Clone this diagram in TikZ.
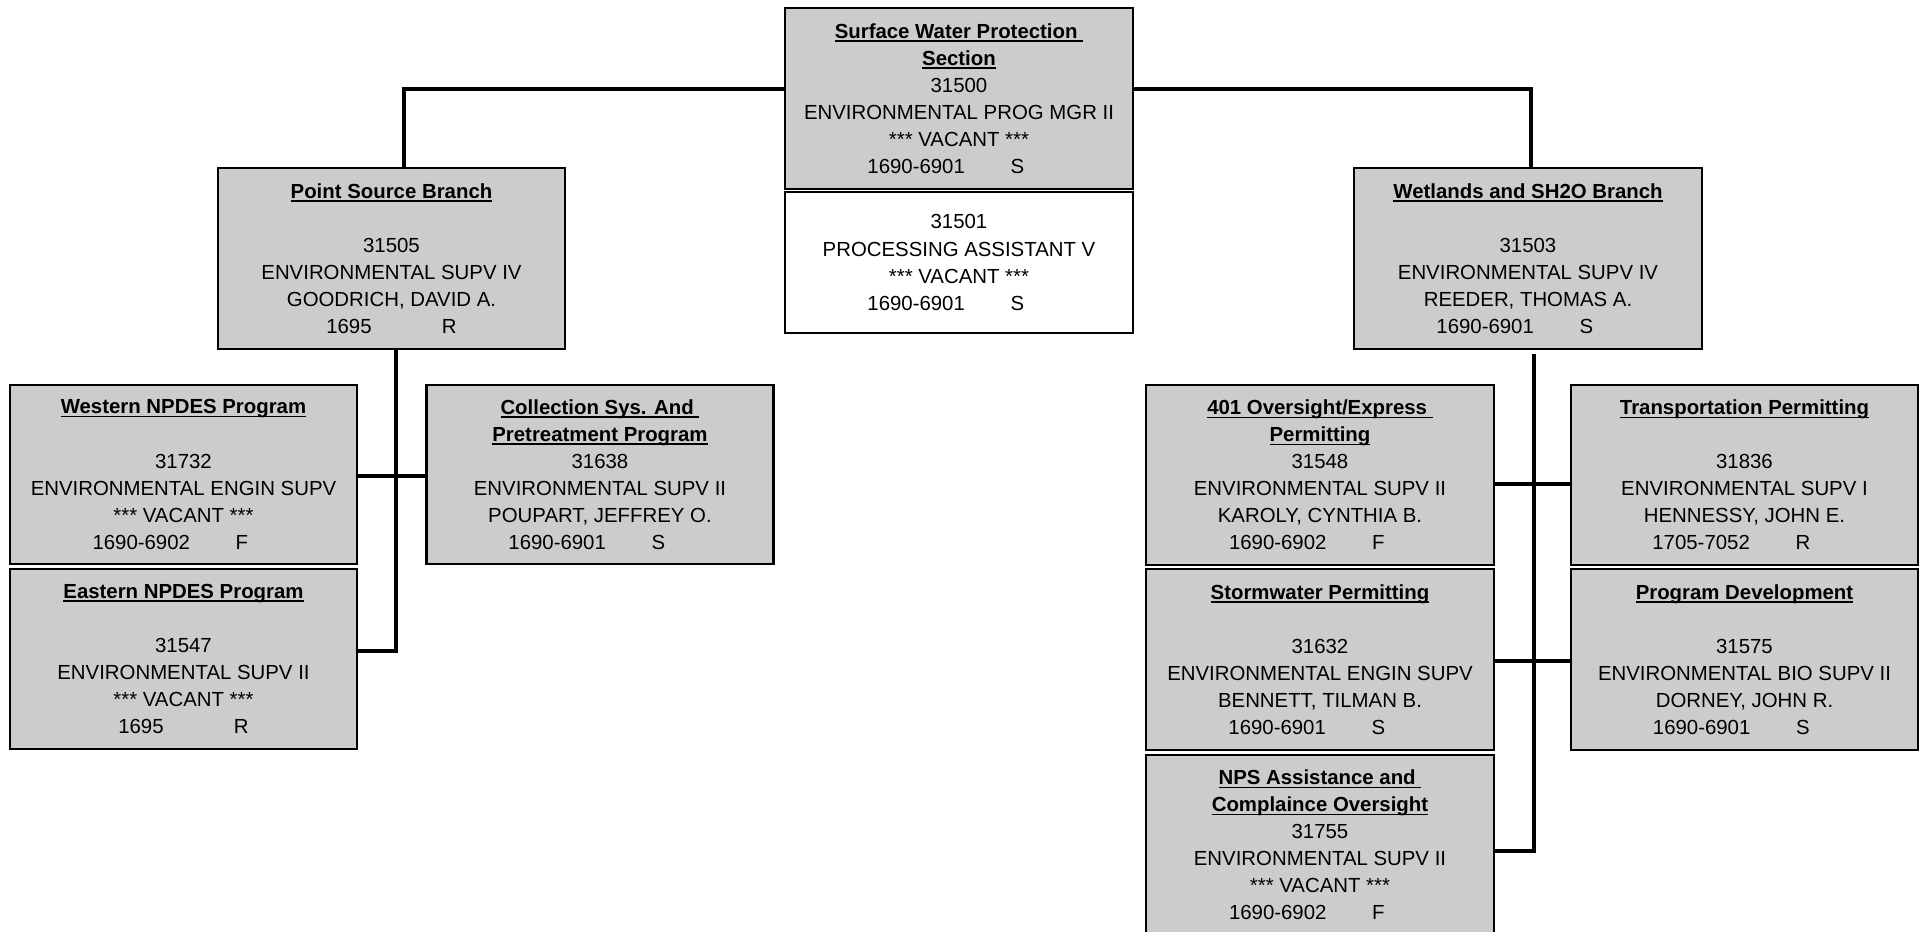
\documentclass[tikz,border=0pt]{standalone}
\usepackage{fontspec}
\setmainfont{Liberation Sans}
\definecolor{BoxGray}{RGB}{204,204,204}
\tikzset{
  unit/.style={rectangle,draw=black,fill=BoxGray,line width=0.6pt,inner sep=0pt,
    minimum width=3.47cm,minimum height=1.8cm,align=center,
    font=\fontsize{5.8}{7.7}\selectfont},
  blankunit/.style={unit,fill=white},
  link/.style={draw=black,line width=1.2pt},
}
\newsavebox{\ttlbox}
\newcommand{\ttl}[1]{\sbox{\ttlbox}{\textbf{#1}}\usebox{\ttlbox}\kern-\wd\ttlbox\rule[-1.0pt]{\wd\ttlbox}{0.45pt}}
\newcommand{\poscode}[2]{#1\hspace{13pt}#2\hspace{7.5pt}\mbox{}}

\begin{document}
\begin{tikzpicture}
\useasboundingbox (0,0) rectangle (19.21,-9.31);
\clip (0,0) rectangle (19.21,-9.31);
% section head and its assistant
\node[unit,minimum width=3.48cm,minimum height=1.81cm] (sect) at (9.59,-0.985)
  {\ttl{Surface Water Protection\ }\\ \ttl{Section}\\ 31500\\ ENVIRONMENTAL PROG MGR II\\ *** VACANT ***\\ \poscode{1690-6901}{S}};
\node[blankunit,minimum width=3.48cm,minimum height=1.41cm] (asst) at (9.59,-2.625)
  {31501\\ PROCESSING ASSISTANT V\\ *** VACANT ***\\ \poscode{1690-6901}{S}};
% branches
\node[unit,minimum height=1.81cm] (psb) at (3.915,-2.585)
  {\ttl{Point Source Branch}\\[7.7pt] 31505\\ ENVIRONMENTAL SUPV IV\\ GOODRICH, DAVID A.\\ 1695\hspace{20pt}R};
\node[unit,minimum width=3.48cm,minimum height=1.81cm] (wet) at (15.28,-2.585)
  {\ttl{Wetlands and SH2O Branch}\\[7.7pt] 31503\\ ENVIRONMENTAL SUPV IV\\ REEDER, THOMAS A.\\ \poscode{1690-6901}{S}};
% point source programs
\node[unit,minimum height=1.79cm] (west) at (1.835,-4.745)
  {\ttl{Western NPDES Program}\\[7.7pt] 31732\\ ENVIRONMENTAL ENGIN SUPV\\ *** VACANT ***\\ \poscode{1690-6902}{F}};
\node[unit] (east) at (1.835,-6.59)
  {\ttl{Eastern NPDES Program}\\[7.7pt] 31547\\ ENVIRONMENTAL SUPV II\\ *** VACANT ***\\ 1695\hspace{20pt}R};
\node[unit,minimum height=1.79cm] (coll) at (6.0,-4.745)
  {\ttl{Collection Sys. And\ }\\ \ttl{Pretreatment Program}\\ 31638\\ ENVIRONMENTAL SUPV II\\ POUPART, JEFFREY O.\\ \poscode{1690-6901}{S}};
% wetlands programs
\node[unit,minimum width=3.48cm] (ovs) at (13.20,-4.75)
  {\ttl{401 Oversight/Express\ }\\ \ttl{Permitting}\\ 31548\\ ENVIRONMENTAL SUPV II\\ KAROLY, CYNTHIA B.\\ \poscode{1690-6902}{F}};
\node[unit] (trans) at (17.445,-4.75)
  {\ttl{Transportation Permitting}\\[7.7pt] 31836\\ ENVIRONMENTAL SUPV I\\ HENNESSY, JOHN E.\\ \poscode{1705-7052}{R}};
\node[unit,minimum width=3.48cm,minimum height=1.81cm] (storm) at (13.20,-6.595)
  {\ttl{Stormwater Permitting}\\[7.7pt] 31632\\ ENVIRONMENTAL ENGIN SUPV\\ BENNETT, TILMAN B.\\ \poscode{1690-6901}{S}};
\node[unit,minimum height=1.81cm] (prog) at (17.445,-6.595)
  {\ttl{Program Development}\\[7.7pt] 31575\\ ENVIRONMENTAL BIO SUPV II\\ DORNEY, JOHN R.\\ \poscode{1690-6901}{S}};
\node[unit,minimum width=3.48cm] (nps) at (13.20,-8.45)
  {\ttl{NPS Assistance and\ }\\ \ttl{Complaince Oversight}\\ 31755\\ ENVIRONMENTAL SUPV II\\ *** VACANT ***\\ \poscode{1690-6902}{F}};
% connectors
\coordinate (jl) at (4.04,-0.89);
\coordinate (jr) at (15.31,-0.89);
\draw[link] (sect.west |- jl) -| (psb.north -| jl);
\draw[link] (sect.east |- jr) -| (wet.north -| jr);
\coordinate (hl) at (3.96,-4.76);
\coordinate (tl) at (3.96,-6.51);
\draw[link] (psb.south -| tl) -- (tl) -- (tl -| east.east);
\draw[link] (hl -| west.east) -- (hl -| coll.west);
\coordinate (trtop) at (15.34,-3.54);
\coordinate (hr1) at (15.34,-4.84);
\coordinate (hr2) at (15.34,-6.61);
\coordinate (tr) at (15.34,-8.51);
\draw[link] (trtop) -- (tr) -- (tr -| nps.east);
\draw[link] (hr1 -| ovs.east) -- (hr1 -| trans.west);
\draw[link] (hr2 -| storm.east) -- (hr2 -| prog.west);
\end{tikzpicture}
\end{document}
